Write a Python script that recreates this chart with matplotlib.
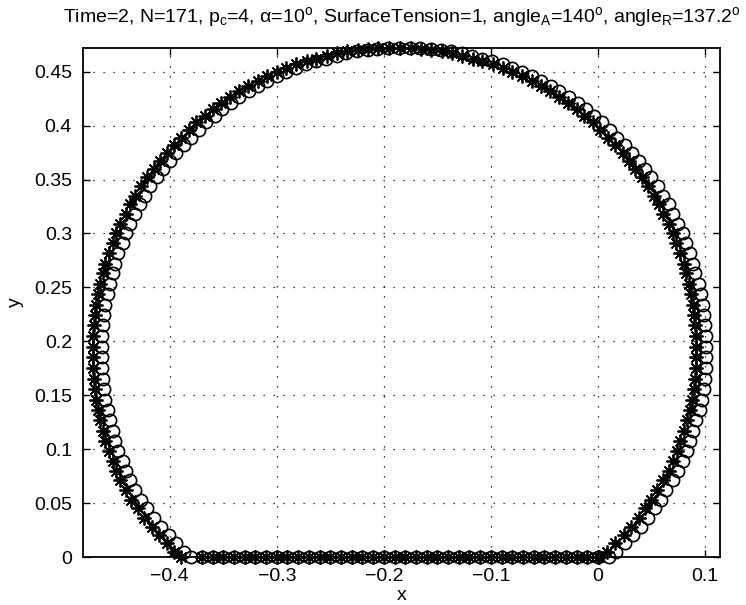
import matplotlib
matplotlib.use('Agg')
import matplotlib.pyplot as plt

plt.rcParams['font.family'] = ['Liberation Sans', 'DejaVu Sans']
plt.rcParams['mathtext.fontset'] = 'custom'
plt.rcParams['mathtext.rm'] = 'Liberation Sans'
plt.rcParams['mathtext.it'] = 'Liberation Sans'

# Interface nodes: 'o' series (drop outline + base)
circ_x = [0.010, 0.017, 0.025, 0.033, 0.040, 0.047, 0.053, 0.059, 0.064, 0.070,
          0.075, 0.079, 0.083, 0.086, 0.089, 0.092, 0.095, 0.097, 0.099, 0.100,
          0.101, 0.101,
          0.101, 0.101, 0.100, 0.099, 0.098, 0.096, 0.094, 0.091, 0.089, 0.086,
          0.082, 0.079, 0.075, 0.070, 0.066, 0.061, 0.056, 0.050, 0.044, 0.038,
          0.032, 0.025, 0.018, 0.011, 0.004, -0.004, -0.011, -0.019, -0.027, -0.036,
          -0.044, -0.053, -0.062, -0.071, -0.080, -0.089, -0.099, -0.108, -0.118, -0.127,
          -0.137, -0.147, -0.156, -0.166, -0.176,
          -0.186, -0.196, -0.206, -0.215, -0.225, -0.235, -0.244, -0.254, -0.263, -0.273,
          -0.282, -0.291, -0.300, -0.309, -0.318, -0.326, -0.335, -0.343, -0.351, -0.358,
          -0.366, -0.373, -0.380, -0.387, -0.394, -0.400, -0.406, -0.412, -0.418, -0.423,
          -0.428, -0.432, -0.437, -0.441, -0.444, -0.448, -0.451, -0.453, -0.456, -0.458,
          -0.460, -0.461, -0.462, -0.463, -0.463,
          -0.463, -0.463, -0.462, -0.461, -0.460, -0.458, -0.456, -0.453, -0.451, -0.448,
          -0.444, -0.441, -0.437, -0.432, -0.427, -0.421, -0.415, -0.408, -0.401, -0.394,
          -0.387, -0.380]

# '*' series: same heights, outline sits slightly to the left
star_x = [0.001, 0.008, 0.016, 0.024, 0.031, 0.038, 0.044, 0.050, 0.055, 0.061,
          0.066, 0.070, 0.074, 0.077, 0.080, 0.083, 0.086, 0.088, 0.090, 0.091,
          0.092, 0.092,
          0.092, 0.092, 0.091, 0.090, 0.089, 0.087, 0.085, 0.082, 0.080, 0.077,
          0.073, 0.070, 0.066, 0.061, 0.057, 0.052, 0.047, 0.041, 0.035, 0.029,
          0.023, 0.016, 0.009, 0.002, -0.005, -0.013, -0.020, -0.028, -0.036, -0.045,
          -0.053, -0.062, -0.071, -0.080, -0.089, -0.098, -0.108, -0.117, -0.127, -0.136,
          -0.146, -0.156, -0.165, -0.175, -0.185,
          -0.195, -0.205, -0.215, -0.224, -0.234, -0.244, -0.253, -0.263, -0.272, -0.282,
          -0.291, -0.300, -0.309, -0.318, -0.327, -0.335, -0.344, -0.352, -0.360, -0.367,
          -0.375, -0.382, -0.389, -0.396, -0.403, -0.409, -0.415, -0.421, -0.427, -0.432,
          -0.437, -0.441, -0.446, -0.450, -0.453, -0.457, -0.460, -0.462, -0.465, -0.467,
          -0.469, -0.470, -0.471, -0.472, -0.472,
          -0.472, -0.472, -0.471, -0.470, -0.469, -0.467, -0.465, -0.462, -0.460, -0.457,
          -0.453, -0.450, -0.446, -0.441, -0.436, -0.430, -0.424, -0.417, -0.410, -0.403,
          -0.396, -0.389]

curve_y = [0.000, 0.005, 0.013, 0.020, 0.028, 0.036, 0.045, 0.053, 0.062, 0.071,
           0.080, 0.089, 0.098, 0.108, 0.117, 0.127, 0.136, 0.146, 0.156, 0.165,
           0.175, 0.185,
           0.195, 0.205, 0.215, 0.224, 0.234, 0.244, 0.253, 0.263, 0.272, 0.282,
           0.291, 0.300, 0.309, 0.318, 0.327, 0.335, 0.344, 0.352, 0.360, 0.367,
           0.375, 0.382, 0.389, 0.396, 0.403, 0.409, 0.415, 0.421, 0.427, 0.432,
           0.437, 0.441, 0.446, 0.450, 0.453, 0.457, 0.460, 0.462, 0.465, 0.467,
           0.469, 0.470, 0.471, 0.472, 0.472,
           0.472, 0.472, 0.471, 0.470, 0.469, 0.467, 0.465, 0.462, 0.460, 0.457,
           0.453, 0.450, 0.446, 0.441, 0.437, 0.432, 0.427, 0.421, 0.415, 0.409,
           0.403, 0.396, 0.389, 0.382, 0.375, 0.367, 0.360, 0.352, 0.344, 0.335,
           0.327, 0.318, 0.309, 0.300, 0.291, 0.282, 0.272, 0.263, 0.253, 0.244,
           0.234, 0.224, 0.215, 0.205, 0.195,
           0.185, 0.175, 0.165, 0.156, 0.146, 0.136, 0.127, 0.117, 0.108, 0.098,
           0.089, 0.080, 0.071, 0.062, 0.053, 0.045, 0.036, 0.028, 0.020, 0.013,
           0.005, 0.000]

# nodes on the solid base (y = 0)
base_x = [-0.370, -0.360, -0.350, -0.340, -0.330, -0.320, -0.310, -0.300, -0.290, -0.280,
          -0.270, -0.260, -0.250, -0.240, -0.230, -0.220, -0.210, -0.200, -0.190, -0.180,
          -0.170, -0.160, -0.150, -0.140, -0.130, -0.120, -0.110, -0.100, -0.090, -0.080,
          -0.070, -0.060, -0.050, -0.040, -0.030, -0.020, -0.010, 0.000]
base_y = [0.0] * len(base_x)

xticks = [-0.4, -0.3, -0.2, -0.1, 0.0, 0.1]
xticklabels = ['\u22120.4', '\u22120.3', '\u22120.2', '\u22120.1', '0', '0.1']
yticks = [0, 0.05, 0.1, 0.15, 0.2, 0.25, 0.3, 0.35, 0.4, 0.45]
yticklabels = ['0', '0.05', '0.1', '0.15', '0.2', '0.25', '0.3', '0.35', '0.4', '0.45']

fig = plt.figure(figsize=(7.46, 6.05), dpi=100)
ax = fig.add_axes([83 / 746, 48 / 605, 637 / 746, 509 / 605])

ax.plot(circ_x + base_x, curve_y + base_y, linestyle='none', marker='o',
        markersize=8.8, markerfacecolor='none', markeredgecolor='black',
        markeredgewidth=1.2, clip_on=False, zorder=3)
ax.plot(star_x + base_x, curve_y + base_y, linestyle='none', marker=(8, 2, 0),
        markersize=10, markeredgecolor='black', markeredgewidth=1.3,
        clip_on=False, zorder=3)

ax.set_xlim(-0.481, 0.114)
ax.set_ylim(0, 0.472)
ax.set_xticks(xticks)
ax.set_xticklabels(xticklabels)
ax.set_yticks(yticks)
ax.set_yticklabels(yticklabels)
ax.tick_params(direction='in', top=True, right=True, length=5, width=1.0,
               labelsize=14, colors='black', pad=8)
ax.grid(True, color='black', linestyle=(0, (1, 7)), linewidth=0.9)
for sp in ax.spines.values():
    sp.set_linewidth(1.3)
    sp.set_color('black')

ax.set_xlabel('x', fontsize=14, labelpad=1)
ax.set_ylabel('y', fontsize=14, labelpad=7)
ax.set_title(r'Time=2, N=171, p$_\mathregular{c}$=4, $\alpha$=10$^\mathregular{o}$, '
             r'SurfaceTension=1, angle$_\mathregular{A}$=140$^\mathregular{o}$, '
             r'angle$_\mathregular{R}$=137.2$^\mathregular{o}$',
             fontsize=14, pad=19)

fig.savefig('out.png', dpi=100)
